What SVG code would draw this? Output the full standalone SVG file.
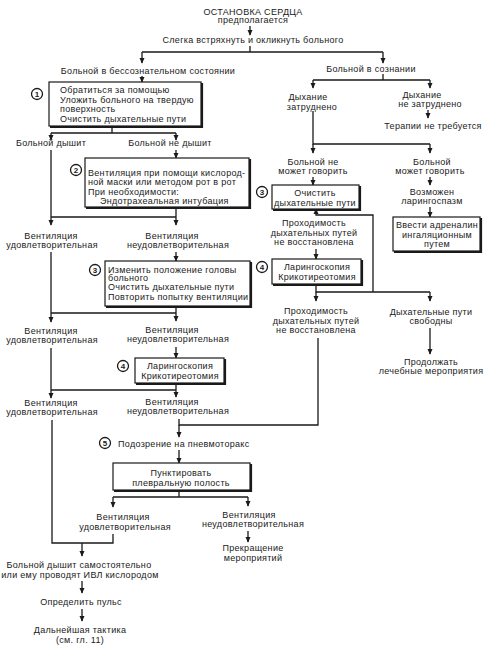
<svg xmlns="http://www.w3.org/2000/svg" width="491" height="649" viewBox="0 0 491 649">
<style>
text{font-family:"Liberation Sans",Arial,sans-serif;font-size:9px;fill:#1a1a1a;letter-spacing:0.3px}
.c{text-anchor:middle}
.box{fill:#fff;stroke:#1a1a1a;stroke-width:1.2}
.sh{fill:none;stroke:#1a1a1a;stroke-width:2.2}
.num circle{fill:#fff;stroke:#1a1a1a;stroke-width:1.3}
.num text{font-size:8px;font-weight:bold;text-anchor:middle;letter-spacing:0}
.ln{fill:none;stroke:#1a1a1a;stroke-width:1.3}
.ar{fill:none;stroke:#1a1a1a;stroke-width:1.3;marker-end:url(#ah)}
</style>
<defs>
<marker id="ah" viewBox="0 0 8 8" refX="7" refY="4" markerWidth="6" markerHeight="6" markerUnits="userSpaceOnUse" orient="auto">
<path d="M0,0.5 L8,4 L0,7.5 Z" fill="#1a1a1a"/>
</marker>
</defs>
<rect width="491" height="649" fill="#fff"/>

<g id="connectors">
<path class="ar" d="M250,26 V35"/>
<path class="ln" d="M250,46 V52 M142,52 H383"/>
<path class="ar" d="M142,52 V63"/>
<path class="ar" d="M383,52 V63"/>
<path class="ar" d="M142,76 V82"/>
<path class="ln" d="M383,74 V80 M313,80 H430"/>
<path class="ar" d="M313,80 V88"/>
<path class="ar" d="M430,80 V88"/>
<path class="ln" d="M112,126 V133 M51,133 H176"/>
<path class="ar" d="M51,133 V140"/>
<path class="ar" d="M176,133 V140"/>
<path class="ln" d="M51,150 V217 M176,207 V217 M51,217 H176"/>
<path class="ar" d="M176,150 V158"/>
<path class="ar" d="M51,217 V225"/>
<path class="ar" d="M176,217 V225"/>
<path class="ar" d="M176,252 V261"/>
<path class="ln" d="M51,252 V313 M176,306 V313 M51,313 H176"/>
<path class="ar" d="M51,313 V322"/>
<path class="ar" d="M176,313 V321"/>
<path class="ar" d="M176,347 V358"/>
<path class="ln" d="M51,348 V390 M176,383 V390 M51,390 H176"/>
<path class="ar" d="M51,390 V398"/>
<path class="ar" d="M176,390 V397"/>
<path class="ln" d="M52,420 V543 H113 V534"/>
<path class="ar" d="M82,543 V556"/>
<path class="ln" d="M179,419 V425 H318 V338"/>
<path class="ar" d="M179,425 V437"/>
<path class="ar" d="M179,450 V463"/>
<path class="ln" d="M179,490 V497 M113,497 H248"/>
<path class="ar" d="M113,497 V507"/>
<path class="ar" d="M248,497 V506"/>
<path class="ar" d="M248,531 V542"/>
<path class="ar" d="M82,581 V593"/>
<path class="ar" d="M82,609 V621"/>
<path class="ar" d="M428,110 V118"/>
<path class="ln" d="M313,111 V144 H430"/>
<path class="ar" d="M313,144 V153"/>
<path class="ar" d="M430,144 V153"/>
<path class="ar" d="M313,177 V185"/>
<path class="ar" d="M430,177 V185"/>
<path class="ar" d="M430,207 V217"/>
<path class="ar" d="M373,292 V215 H316 V209"/>
<path class="ar" d="M316,249 V259"/>
<path class="ln" d="M316,284 V292 H430"/>
<path class="ar" d="M316,292 V301"/>
<path class="ar" d="M430,292 V301"/>
<path class="ar" d="M430,328 V354"/>
</g>

<g id="top">
<text class="c" x="253" y="14.5">ОСТАНОВКА СЕРДЦА</text>
<text class="c" x="253" y="23">предполагается</text>
</g>
<g id="shake"><text class="c" x="253" y="43">Слегка встряхнуть и окликнуть больного</text></g>
<g id="unconscious"><text class="c" x="148" y="74">Больной в бессознательном состоянии</text></g>
<g id="conscious"><text class="c" x="371" y="72">Больной в сознании</text></g>

<g id="box1">
<path class="sh" d="M202,83 V127 H50"/>
<rect class="box" x="49" y="82" width="152" height="44"/>
<text x="60" y="93">Обратиться за помощью</text>
<text x="60" y="102.5">Уложить больного на твердую</text>
<text x="60" y="112">поверхность</text>
<text x="60" y="122">Очистить дыхательные пути</text>
<g class="num"><circle cx="37" cy="94" r="5.5"/><text x="37" y="97">1</text></g>
</g>

<g id="breathes"><text class="c" x="51" y="146">Больной дышит</text></g>
<g id="notbreathes"><text class="c" x="170" y="146">Больной не дышит</text></g>

<g id="box2">
<path class="sh" d="M250,159 V208 H86"/>
<rect class="box" x="85" y="158" width="164" height="49"/>
<text x="88" y="176">Вентиляция при помощи кислород-</text>
<text x="88" y="185">ной маски или методом рот в рот</text>
<text x="88" y="194.5">При необходимости:</text>
<text x="100" y="203.5">Эндотрахеальная интубация</text>
<g class="num"><circle cx="76" cy="170" r="5.5"/><text x="76" y="173">2</text></g>
</g>

<g id="v1ok"><text class="c" x="51" y="239">Вентиляция</text><text class="c" x="52" y="248">удовлетворительная</text></g>
<g id="v1bad"><text class="c" x="172" y="239">Вентиляция</text><text class="c" x="178" y="248">неудовлетворительная</text></g>

<g id="box3">
<path class="sh" d="M251,262 V307 H106"/>
<rect class="box" x="105" y="261" width="145" height="45"/>
<text x="108" y="272.5">Изменить положение головы</text>
<text x="108" y="281">больного</text>
<text x="108" y="290">Очистить дыхательные пути</text>
<text x="108" y="299.5">Повторить попытку вентиляции</text>
<g class="num"><circle cx="95" cy="270" r="5.5"/><text x="95" y="273">3</text></g>
</g>

<g id="v2ok"><text class="c" x="51" y="334">Вентиляция</text><text class="c" x="52" y="343">удовлетворительная</text></g>
<g id="v2bad"><text class="c" x="172" y="333">Вентиляция</text><text class="c" x="178" y="342">неудовлетворительная</text></g>

<g id="box4">
<path class="sh" d="M225,359 V384 H136"/>
<rect class="box" x="135" y="358" width="89" height="25"/>
<text class="c" x="180" y="368.5">Ларингоскопия</text>
<text class="c" x="180" y="378.5">Крикотиреотомия</text>
<g class="num"><circle cx="123" cy="366" r="5.5"/><text x="123" y="369">4</text></g>
</g>

<g id="v3ok"><text class="c" x="51" y="406">Вентиляция</text><text class="c" x="52" y="415">удовлетворительная</text></g>
<g id="v3bad"><text class="c" x="172" y="405">Вентиляция</text><text class="c" x="178" y="414">неудовлетворительная</text></g>

<g id="pneumo">
<text x="118" y="446.5">Подозрение на пневмоторакс</text>
<g class="num"><circle cx="105" cy="443" r="5.5"/><text x="105" y="446">5</text></g>
</g>

<g id="box5">
<path class="sh" d="M251,464 V491 H114"/>
<rect class="box" x="113" y="463" width="137" height="27"/>
<text class="c" x="181" y="476">Пунктировать</text>
<text class="c" x="181" y="486">плевральную полость</text>
</g>

<g id="v4ok"><text class="c" x="123" y="520">Вентиляция</text><text class="c" x="125" y="530">удовлетворительная</text></g>
<g id="v4bad"><text class="c" x="249" y="518">Вентиляция</text><text class="c" x="253" y="527">неудовлетворительная</text></g>
<g id="stop"><text class="c" x="253" y="551">Прекращение</text><text class="c" x="253" y="561">мероприятий</text></g>

<g id="selfbreath"><text class="c" x="79" y="568">Больной дышит самостоятельно</text><text class="c" x="80" y="577.5">или ему проводят ИВЛ кислородом</text></g>
<g id="pulse"><text class="c" x="81" y="605">Определить пульс</text></g>
<g id="further"><text class="c" x="80" y="633">Дальнейшая тактика</text><text class="c" x="80" y="643">(см. гл. 11)</text></g>

<g id="hard"><text class="c" x="308" y="100">Дыхание</text><text class="c" x="312" y="109.5">затруднено</text></g>
<g id="nothard"><text class="c" x="422" y="98">Дыхание</text><text class="c" x="430" y="107">не затруднено</text></g>
<g id="notherapy"><text class="c" x="433" y="129">Терапии не требуется</text></g>

<g id="cantspeak"><text class="c" x="313" y="165">Больной не</text><text class="c" x="313" y="174">может говорить</text></g>
<g id="canspeak"><text class="c" x="432" y="165">Больной</text><text class="c" x="430" y="174">может говорить</text></g>

<g id="box3r">
<path class="sh" d="M360,186 V210 H273"/>
<rect class="box" x="272" y="185" width="87" height="24"/>
<text class="c" x="315" y="196">Очистить</text>
<text class="c" x="315" y="205.5">дыхательные пути</text>
<g class="num"><circle cx="262" cy="192" r="5.5"/><text x="262" y="195">3</text></g>
</g>

<g id="laryngospasm"><text class="c" x="432" y="195">Возможен</text><text class="c" x="432" y="203.5">ларингоспазм</text></g>

<g id="adrenalin">
<path class="sh" d="M481,218 V252 H394"/>
<rect class="box" x="393" y="217" width="87" height="34"/>
<text class="c" x="437" y="228">Ввести адреналин</text>
<text class="c" x="437" y="237.5">ингаляционным</text>
<text class="c" x="437" y="247">путем</text>
</g>

<g id="notrestored1"><text class="c" x="314" y="226">Проходимость</text><text class="c" x="314" y="235.5">дыхательных путей</text><text class="c" x="314" y="245">не восстановлена</text></g>

<g id="box4r">
<path class="sh" d="M362,260 V285 H273"/>
<rect class="box" x="272" y="259" width="89" height="25"/>
<text class="c" x="317" y="270">Ларингоскопия</text>
<text class="c" x="317" y="280">Крикотиреотомия</text>
<g class="num"><circle cx="262" cy="267" r="5.5"/><text x="262" y="270">4</text></g>
</g>

<g id="notrestored2"><text class="c" x="316" y="314">Проходимость</text><text class="c" x="316" y="323.5">дыхательных путей</text><text class="c" x="316" y="333">не восстановлена</text></g>
<g id="free"><text class="c" x="431" y="315">Дыхательные пути</text><text class="c" x="431" y="324">свободны</text></g>
<g id="continue"><text class="c" x="431" y="365">Продолжать</text><text class="c" x="431" y="374">лечебные мероприятия</text></g>
</svg>
